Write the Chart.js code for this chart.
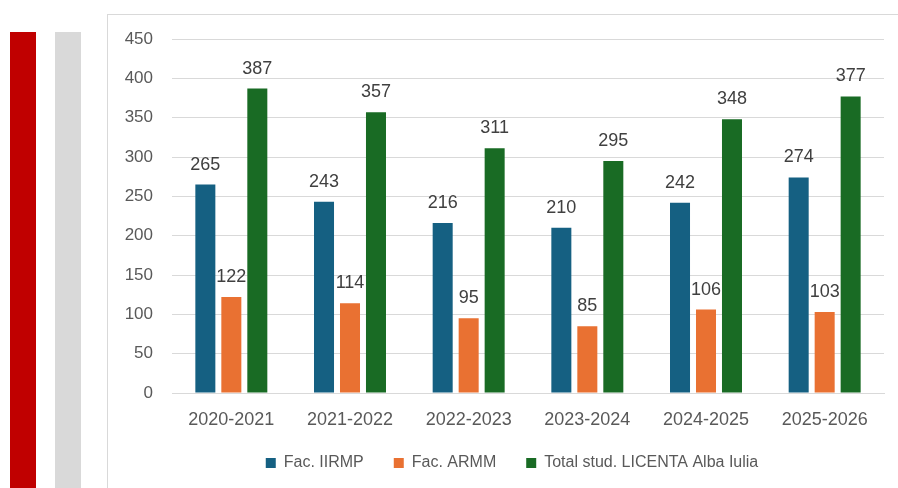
<!DOCTYPE html>
<html>
<head>
<meta charset="utf-8">
<script src="https://cdn.jsdelivr.net/npm/chart.js@4"></script>
<style>
  html, body { margin: 0; padding: 0; background: #fff; }
  body { width: 898px; height: 488px; position: relative; overflow: hidden; }
  .redbar { position: absolute; left: 10px; top: 32px; width: 26px; height: 456px; background: #C00000; }
  .greybar { position: absolute; left: 55px; top: 32px; width: 26px; height: 456px; background: #D9D9D9; }
  .box { position: absolute; left: 107px; top: 14px; width: 800px; height: 480px; border: 1px solid #D9D9D9; }
  .wrap { position: absolute; left: 0; top: 0; width: 790px; height: 473px; }
</style>
</head>
<body>
<div class="redbar"></div>
<div class="greybar"></div>
<div class="box"><div class="wrap"><canvas id="chart"></canvas></div></div>
<script>
const years = ["2020-2021", "2021-2022", "2022-2023", "2023-2024", "2024-2025", "2025-2026"];
const iirmp = [265, 243, 216, 210, 242, 274];
const armm = [122, 114, 95, 85, 106, 103];
const totalLicenta = [387, 357, 311, 295, 348, 377];
const yTicks = [0, 50, 100, 150, 200, 250, 300, 350, 400, 450];

const FONT = "'Liberation Sans', Arial, sans-serif";

// values written above each bar
const barLabels = {
  id: "barLabels",
  afterDatasetsDraw(chart) {
    const ctx = chart.ctx;
    ctx.save();
    ctx.font = "18px " + FONT;
    ctx.fillStyle = "#404040";
    ctx.textAlign = "center";
    ctx.textBaseline = "alphabetic";
    chart.data.datasets.forEach((ds, i) => {
      chart.getDatasetMeta(i).data.forEach((bar, j) => {
        ctx.fillText(String(ds.data[j]), bar.x, bar.y - 15);
      });
    });
    ctx.restore();
  }
};

// legend sits a bit right of the canvas centre in the original
const legendShift = {
  id: "legendShift",
  afterLayout(chart) {
    if (chart.legend) chart.legend.left += 32;
  }
};

new Chart(document.getElementById("chart"), {
  type: "bar",
  data: {
    labels: years,
    datasets: [
      { label: "Fac. IIRMP", data: iirmp, backgroundColor: "#156082" },
      { label: "Fac. ARMM", data: armm, backgroundColor: "#E97132" },
      { label: "Total stud. LICENTA Alba Iulia", data: totalLicenta, backgroundColor: "#196B24" }
    ]
  },
  options: {
    responsive: true,
    maintainAspectRatio: false,
    animation: false,
    categoryPercentage: 0.657,
    barPercentage: 0.77,
    layout: { padding: { left: 0, right: 14, top: 24, bottom: 7 } },
    plugins: {
      tooltip: { enabled: false },
      legend: {
        position: "bottom",
        labels: {
          boxWidth: 10,
          boxHeight: 10,
          padding: 30,
          color: "#595959",
          font: { family: FONT, size: 16 }
        }
      }
    },
    scales: {
      x: {
        grid: { display: false, drawTicks: false },
        border: { color: "#D9D9D9" },
        ticks: { color: "#595959", padding: 16, font: { family: FONT, size: 18 } },
        afterFit: s => { s.height = 32; }
      },
      y: {
        min: 0,
        max: 450,
        afterBuildTicks: s => { s.ticks = yTicks.map(v => ({ value: v })); },
        grid: { color: "#D9D9D9", drawTicks: true, tickLength: 19, tickColor: "rgba(0,0,0,0)" },
        border: { display: false },
        ticks: { color: "#595959", padding: 0, font: { family: FONT, size: 17 } },
        afterFit: s => { s.width = 64; }
      }
    }
  },
  plugins: [barLabels, legendShift]
});
</script>
</body>
</html>
